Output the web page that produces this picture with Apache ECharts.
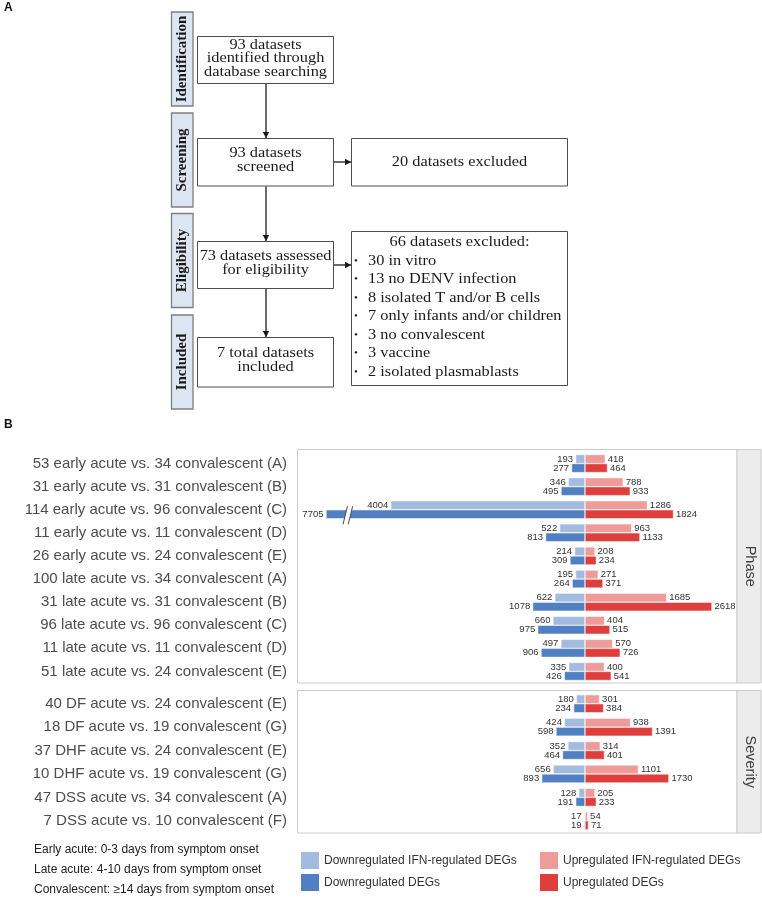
<!DOCTYPE html>
<html><head><meta charset="utf-8">
<script src="https://cdn.jsdelivr.net/npm/echarts@6.0.0/dist/echarts.min.js"></script>
<style>html,body{margin:0;padding:0;background:#fff}#c{width:762px;height:899px}</style>
</head><body><div id="c"></div>
<script>
// ---------- DATA ----------
const phaseCategories = [
  '53 early acute vs. 34 convalescent (A)',
  '31 early acute vs. 31 convalescent (B)',
  '114 early acute vs. 96 convalescent (C)',
  '11 early acute vs. 11 convalescent (D)',
  '26 early acute vs. 24 convalescent (E)',
  '100 late acute vs. 34 convalescent (A)',
  '31 late acute vs. 31 convalescent (B)',
  '96 late acute vs. 96 convalescent (C)',
  '11 late acute vs. 11 convalescent (D)',
  '51 late acute vs. 24 convalescent (E)'
];
const phaseDownIFN = [193, 346, 4004, 522, 214, 195, 622, 660, 497, 335];
const phaseDownAll = [277, 495, 7705, 813, 309, 264, 1078, 975, 906, 426];
const phaseUpIFN   = [418, 788, 1286, 963, 208, 271, 1685, 404, 570, 400];
const phaseUpAll   = [464, 933, 1824, 1133, 234, 371, 2618, 515, 726, 541];

const severityCategories = [
  '40 DF acute vs. 24 convalescent (E)',
  '18 DF acute vs. 19 convalescent (G)',
  '37 DHF acute vs. 24 convalescent (E)',
  '10 DHF acute vs. 19 convalescent (G)',
  '47 DSS acute vs. 34 convalescent (A)',
  '7 DSS acute vs. 10 convalescent (F)'
];
const severityDownIFN = [180, 424, 352, 656, 128, 17];
const severityDownAll = [234, 598, 464, 893, 191, 19];
const severityUpIFN   = [301, 938, 314, 1101, 205, 54];
const severityUpAll   = [384, 1391, 401, 1730, 233, 71];

// broken axis: bars longer than this are cut, with a break mark drawn at breakMarkValue
const breakCap = 5340;
const breakMarkValue = 4890;

const facetNames = ['Phase', 'Severity'];
const legendNames = ['Downregulated IFN-regulated DEGs', 'Downregulated DEGs',
                     'Upregulated IFN-regulated DEGs', 'Upregulated DEGs'];
const footnotes = ['Early acute: 0-3 days from symptom onset',
                   'Late acute: 4-10 days from symptom onset',
                   'Convalescent: \u226514 days from symptom onset'];

// ---------- STYLE ----------
const COLORS = ['#a3bbdf', '#5080c1', '#ee9b9a', '#de3f3d'];
const SANS = 'Liberation Sans';
const SERIF = '"Liberation Serif", "Times New Roman", serif';
const LABEL_COLOR = '#333333';
const BAR_W = 9;

function valueLabel(pos) {
  return {
    show: true, position: pos, distance: 2.5,
    fontSize: 9.5, fontFamily: SANS, fontWeight: 'normal', color: LABEL_COLOR,
    formatter: p => String(p.data.raw)
  };
}
function makeSeries(gi, dIFN, dAll, uIFN, uAll) {
  const common = {type: 'bar', xAxisIndex: gi, yAxisIndex: gi, barWidth: BAR_W, barGap: '0%',
                  itemStyle: {borderColor: '#ffffff', borderWidth: 0.5}};
  return [
    Object.assign({}, common, {name: legendNames[0], stack: 'ifn' + gi, color: COLORS[0],
      data: dIFN.map(v => ({value: -v, raw: v})), label: valueLabel('left')}),
    Object.assign({}, common, {name: legendNames[1], stack: 'all' + gi, color: COLORS[1],
      data: dAll.map(v => ({value: -Math.min(v, breakCap), raw: v})), label: valueLabel('left')}),
    Object.assign({}, common, {name: legendNames[2], stack: 'ifn' + gi, color: COLORS[2],
      data: uIFN.map(v => ({value: v, raw: v})), label: valueLabel('right')}),
    Object.assign({}, common, {name: legendNames[3], stack: 'all' + gi, color: COLORS[3],
      data: uAll.map(v => ({value: v, raw: v})), label: valueLabel('right')})
  ];
}

// break marks for capped bars (phase panel)
const breakData = [];
phaseDownAll.forEach((v, i) => { if (v > breakCap) breakData.push([-breakMarkValue, phaseCategories[i]]); });

const breakSeries = {
  type: 'custom', xAxisIndex: 0, yAxisIndex: 0, z: 10, silent: true,
  encode: {x: 0, y: 1}, data: breakData,
  renderItem: function (params, api) {
    const p = api.coord([api.value(0), api.value(1)]);
    const cx = p[0], cy = p[1] + BAR_W / 2 + 1;
    const h = 9, s = 2.2, g = 2.6;
    return {type: 'group', children: [
      {type: 'polygon', shape: {points: [[cx - g - s, cy + h], [cx - g + s, cy - h], [cx + g + s, cy - h], [cx + g - s, cy + h]]},
       style: {fill: '#ffffff'}},
      {type: 'line', shape: {x1: cx - g - s, y1: cy + h, x2: cx - g + s, y2: cy - h}, style: {stroke: '#4a4a4a', lineWidth: 1}},
      {type: 'line', shape: {x1: cx + g - s, y1: cy + h, x2: cx + g + s, y2: cy - h}, style: {stroke: '#4a4a4a', lineWidth: 1}}
    ]};
  }
};

// ---------- PANEL A: flow chart (decoration, drawn with graphic) ----------
const G = [];
function rect(x, y, w, h, fill, stroke, lw) {
  G.push({type: 'rect', shape: {x: x, y: y, width: w, height: h}, style: {fill: fill, stroke: stroke, lineWidth: lw || 1}, z: 1});
}
function txt(x, y, t, opt) {
  opt = opt || {};
  G.push({type: 'text', x: x, y: y, rotation: opt.rot || 0, scaleX: opt.sx || 1, z: 3,
    style: {text: t, font: opt.font || ('15px ' + SERIF), fill: opt.fill || '#1a1a1a',
            textAlign: opt.align || 'center', textVerticalAlign: 'middle', lineHeight: opt.lh || 14}});
}
function arrow(x1, y1, x2, y2) {
  G.push({type: 'line', shape: {x1: x1, y1: y1, x2: x2, y2: y2}, style: {stroke: '#1a1a1a', lineWidth: 1.3}, z: 2});
  const L = 6, W = 3.2;
  const dx = x2 - x1, dy = y2 - y1, d = Math.hypot(dx, dy), ux = dx / d, uy = dy / d;
  G.push({type: 'polygon', z: 2, shape: {points: [[x2, y2], [x2 - ux * L - uy * W, y2 - uy * L + ux * W], [x2 - ux * L + uy * W, y2 - uy * L - ux * W]]},
          style: {fill: '#1a1a1a'}});
}
const SX = 1.09;
const SANSF = '"Liberation Sans", Arial, sans-serif';
txt(4, 8, 'A', {font: 'bold 12px ' + SANSF, align: 'left', fill: '#111'});
txt(4, 425, 'B', {font: 'bold 12px ' + SANSF, align: 'left', fill: '#111'});

const stages = [['Identification', 12], ['Screening', 113], ['Eligibility', 213.5], ['Included', 315]];
stages.forEach(s => {
  rect(171.5, s[1], 21.5, 94, '#dce6f2', '#7f7f7f', 1.3);
  txt(182.5, s[1] + 47, s[0], {font: 'bold 15px ' + SERIF, rot: Math.PI / 2});
});

rect(197.5, 36.5, 136, 47, '#ffffff', '#4d4d4d', 1);
txt(265.5, 58.5, '93 datasets\nidentified through\ndatabase searching', {sx: SX, lh: 13.3});
rect(197.5, 138.5, 136, 47.5, '#ffffff', '#4d4d4d', 1);
txt(265.5, 160, '93 datasets\nscreened', {sx: SX, lh: 13.4});
rect(351.5, 138.5, 216, 47.5, '#ffffff', '#4d4d4d', 1);
txt(459.5, 162, '20 datasets excluded', {sx: SX});
rect(197.5, 241.5, 136, 47, '#ffffff', '#4d4d4d', 1);
txt(265.5, 263, '73 datasets assessed\nfor eligibility', {sx: SX, lh: 14});
rect(351.5, 231.5, 216, 154, '#ffffff', '#4d4d4d', 1);
txt(459.5, 242, '66 datasets excluded:', {sx: SX});
const bullets = ['30 in vitro', '13 no DENV infection', '8 isolated T and/or B cells',
  '7 only infants and/or children', '3 no convalescent', '3 vaccine', '2 isolated plasmablasts'];
bullets.forEach((b, i) => {
  const y = 261 + i * 18.5;
  txt(356, y, '\u2022', {align: 'center', font: '11px ' + SERIF});
  txt(368, y, b, {align: 'left', sx: SX});
});
rect(197.5, 337.5, 136, 49.5, '#ffffff', '#4d4d4d', 1);
txt(265.5, 360, '7 total datasets\nincluded', {sx: SX, lh: 13.4});

arrow(266, 84, 266, 138);
arrow(266, 186.5, 266, 241);
arrow(266, 289, 266, 337);
arrow(334, 162, 351, 162);
arrow(334, 265, 351, 265);

// ---------- PANEL B frames & strips ----------
const frames = [[449.5, 233.5], [690.5, 142.5]];
frames.forEach((f, i) => {
  rect(297.5, f[0], 439.5, f[1], 'rgba(0,0,0,0)', '#cccccc', 1);
  rect(737, f[0], 24, f[1], '#ececec', '#cccccc', 1);
  txt(749.5, f[0] + f[1] / 2, facetNames[i], {font: '14.5px ' + SANSF, fill: '#404040', rot: -Math.PI / 2});
});
footnotes.forEach((t, i) => txt(34, 850 + i * 20, t, {font: '12px ' + SANSF, align: 'left', fill: '#222'}));

// ---------- CHART ----------
const chart = echarts.init(document.getElementById('c'), null, {renderer: 'canvas'});
const xMin = -5938, xMax = 3134;
function yAx(gi, cats) {
  return {type: 'category', gridIndex: gi, data: cats, inverse: true,
    axisLine: {show: false}, axisTick: {show: false}, splitLine: {show: false},
    axisLabel: {interval: 0, margin: 10, fontSize: 15, fontFamily: SANS, color: '#4d4d4d'}};
}
function xAx(gi) {
  return {type: 'value', gridIndex: gi, min: xMin, max: xMax, show: false, splitLine: {show: false}};
}
const legendCommon = {orient: 'vertical', itemWidth: 18, itemHeight: 17, itemGap: 5, selectedMode: false,
  icon: 'rect', itemStyle: {borderWidth: 0}, textStyle: {fontSize: 12, fontFamily: SANS, color: '#333'}, padding: 0};

chart.setOption({
  animation: false,
  backgroundColor: '#ffffff',
  textStyle: {fontFamily: SANS},
  grid: [
    {left: 297, right: 25, top: 452, height: 231, containLabel: false},
    {left: 297, right: 25, top: 692, height: 140.5, containLabel: false}
  ],
  xAxis: [xAx(0), xAx(1)],
  yAxis: [yAx(0, phaseCategories), yAx(1, severityCategories)],
  legend: [
    Object.assign({}, legendCommon, {left: 301, top: 852, data: [legendNames[0], legendNames[1]]}),
    Object.assign({}, legendCommon, {left: 540, top: 852, data: [legendNames[2], legendNames[3]]})
  ],
  graphic: {elements: G},
  series: [].concat(
    makeSeries(0, phaseDownIFN, phaseDownAll, phaseUpIFN, phaseUpAll),
    makeSeries(1, severityDownIFN, severityDownAll, severityUpIFN, severityUpAll),
    [breakSeries]
  )
});
</script></body></html>
